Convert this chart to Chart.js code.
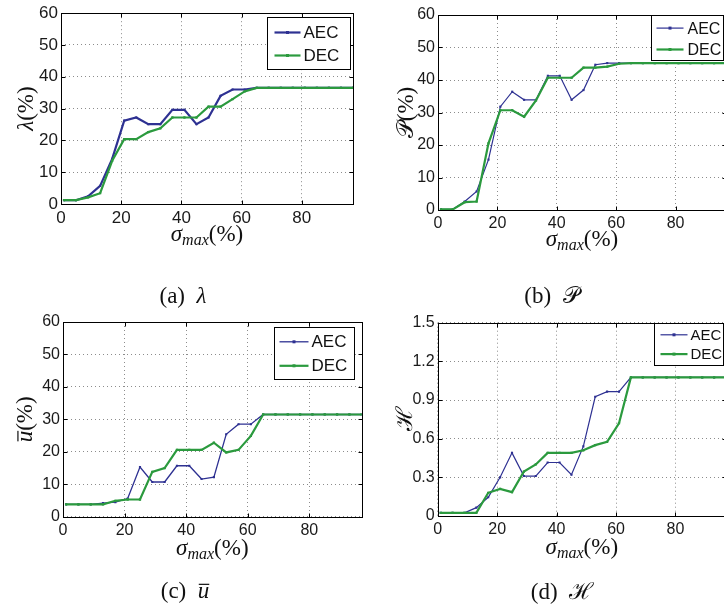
<!DOCTYPE html>
<html>
<head>
<meta charset="utf-8">
<script src="https://cdn.jsdelivr.net/npm/chart.js@4.4.1/dist/chart.umd.min.js"></script>
<style>
  html, body { margin: 0; padding: 0; background: #fff; width: 724px; height: 606px; overflow: hidden; }
  canvas { position: absolute; left: 0; top: 0; }
</style>
</head>
<body>
<canvas id="panelA" width="760" height="606"></canvas>
<canvas id="panelB" width="760" height="606"></canvas>
<canvas id="panelC" width="760" height="606"></canvas>
<canvas id="panelD" width="760" height="606"></canvas>
<script>
// sigma_max (%) sample points, shared by all four panels
const sigmaMax = [1, 5, 9, 13, 17, 21, 25, 29, 33, 37, 41, 45, 49, 53, 57, 61, 65, 69, 73, 77, 81, 85, 89, 93, 97];

// (a) lambda (%)
const lambdaAEC = [1.2, 1.2, 2.4, 5.7, 14.2, 26.2, 27.2, 25.1, 25.1, 29.6, 29.6, 25.1, 27.2, 34.0, 36.0, 36.0, 36.5, 36.5, 36.5, 36.5, 36.5, 36.5, 36.5, 36.5, 36.5];
const lambdaDEC = [1.2, 1.2, 2.1, 3.4, 13.6, 20.4, 20.4, 22.6, 23.8, 27.2, 27.2, 27.2, 30.6, 30.6, 33.0, 35.4, 36.5, 36.5, 36.5, 36.5, 36.5, 36.5, 36.5, 36.5, 36.5];

// (b) P (%)
const precAEC = [0.2, 0.2, 2.6, 5.7, 15.5, 31.8, 36.4, 33.9, 33.9, 41.3, 41.3, 33.9, 36.9, 44.7, 45.2, 45.2, 45.2, 45.2, 45.2, 45.2, 45.2, 45.2, 45.2, 45.2, 45.2];
const precDEC = [0.2, 0.2, 2.4, 2.6, 20.5, 30.7, 30.7, 28.7, 33.7, 40.7, 40.7, 40.7, 43.8, 43.8, 44.1, 45.0, 45.2, 45.2, 45.2, 45.2, 45.2, 45.2, 45.2, 45.2, 45.2];

// (c) u-bar (%)
const ubarAEC = [3.8, 3.8, 3.8, 4.2, 4.5, 5.6, 15.3, 10.7, 10.7, 15.7, 15.7, 11.6, 12.2, 25.4, 28.5, 28.5, 31.5, 31.5, 31.5, 31.5, 31.5, 31.5, 31.5, 31.5, 31.5];
const ubarDEC = [3.8, 3.8, 3.8, 3.8, 4.9, 5.3, 5.3, 13.8, 15.0, 20.6, 20.6, 20.6, 22.8, 19.8, 20.6, 24.9, 31.5, 31.5, 31.5, 31.5, 31.5, 31.5, 31.5, 31.5, 31.5];

// (d) H
const entAEC = [0.025, 0.025, 0.025, 0.065, 0.145, 0.30, 0.49, 0.31, 0.31, 0.415, 0.415, 0.32, 0.54, 0.925, 0.965, 0.965, 1.075, 1.075, 1.075, 1.075, 1.075, 1.075, 1.075, 1.075, 1.075];
const entDEC = [0.025, 0.025, 0.025, 0.025, 0.18, 0.21, 0.185, 0.345, 0.40, 0.49, 0.49, 0.49, 0.51, 0.55, 0.575, 0.72, 1.075, 1.075, 1.075, 1.075, 1.075, 1.075, 1.075, 1.075, 1.075];

const xTicks = [0, 20, 40, 60, 80];
const pctTicks = [0, 10, 20, 30, 40, 50, 60];
const entTicks = [0, 0.3, 0.6, 0.9, 1.2, 1.5];
const seriesNames = ['AEC', 'DEC'];

const BLUE = '#2e3192';
const GREEN = '#2b9a3e';
const SANS = '"Liberation Sans", Arial, sans-serif';
const SERIF = '"Liberation Serif", "DejaVu Serif", serif';

// symbol used in y title and caption
function symbolSegs(key, size) {
  if (key === 'lambda') return [{ t: 'λ', font: `italic ${size}px ${SERIF}` }];
  if (key === 'P') return [{ t: '𝒫', font: `${size}px "DejaVu Serif", ${SERIF}` }];
  if (key === 'u') return [{ t: 'u', font: `italic ${size}px ${SERIF}`, over: size * 0.62 }];
  return [{ t: 'ℋ', font: `${size}px "DejaVu Serif", ${SERIF}` }];
}

function segWidth(ctx, segs) {
  let w = 0;
  segs.forEach(s => { ctx.font = s.font; w += ctx.measureText(s.t).width; });
  return w;
}

function drawSegs(ctx, segs, x, y) {
  segs.forEach(s => {
    ctx.font = s.font;
    ctx.fillText(s.t, x, y + (s.dy || 0));
    const w = ctx.measureText(s.t).width;
    if (s.over) ctx.fillRect(x + 1, y - s.over, w - 1, 1.2);
    x += w;
  });
}

const decor = {
  id: 'decor',
  afterDraw(chart, args, o) {
    const { ctx, chartArea: a } = chart;
    const xs = chart.scales.x, ys = chart.scales.y;
    const L = Math.round(a.left) + 0.5, R = Math.round(a.right) + 0.5;
    const T = Math.round(a.top) + 0.5, B = Math.round(a.bottom) + 0.5;
    ctx.save();
    ctx.strokeStyle = '#000';
    ctx.lineWidth = 1;
    // inward tick marks (both sides)
    ctx.beginPath();
    xTicks.forEach(v => {
      const px = Math.round(xs.getPixelForValue(v)) + 0.5;
      ctx.moveTo(px, B); ctx.lineTo(px, B - 4);
      ctx.moveTo(px, T); ctx.lineTo(px, T + 4);
    });
    ys.ticks.forEach(t => {
      const py = Math.round(ys.getPixelForValue(t.value)) + 0.5;
      ctx.moveTo(L, py); ctx.lineTo(L + 4, py);
      ctx.moveTo(R, py); ctx.lineTo(R - 4, py);
    });
    ctx.stroke();
    // axes box
    ctx.strokeRect(L, T, R - L, B - T);

    // legend
    const lg = o.legend;
    const bx = Math.round(a.right - lg.inset - lg.w) + 0.5;
    const by = Math.round(a.top + lg.top) + 0.5;
    ctx.fillStyle = '#fff';
    ctx.fillRect(bx, by, lg.w, lg.h);
    ctx.strokeStyle = '#000';
    ctx.strokeRect(bx, by, lg.w, lg.h);
    chart.data.datasets.forEach((ds, i) => {
      const y = by + lg.rows[i];
      ctx.strokeStyle = ds.borderColor;
      ctx.lineWidth = ds.borderWidth;
      ctx.beginPath();
      ctx.moveTo(bx + lg.x0, y); ctx.lineTo(bx + lg.x1, y);
      ctx.stroke();
      ctx.fillStyle = ds.borderColor;
      ctx.fillRect(bx + (lg.x0 + lg.x1) / 2 - 1.5, y - 1.5, 3, 3);
      ctx.fillStyle = '#111';
      ctx.font = `${lg.font}px ${SANS}`;
      ctx.textBaseline = 'middle';
      ctx.textAlign = 'left';
      ctx.fillText(ds.label, bx + lg.text, y + 1);
    });

    ctx.fillStyle = '#111';
    ctx.textBaseline = 'alphabetic';
    ctx.textAlign = 'left';
    // x title: sigma_max(%)
    const xt = [
      { t: 'σ', font: `italic 23px ${SERIF}` },
      { t: 'max', font: `italic 16px ${SERIF}`, dy: 4 },
      { t: '(%)', font: `23px ${SERIF}` }
    ];
    const cx = (a.left + a.right) / 2;
    drawSegs(ctx, xt, cx - segWidth(ctx, xt) / 2, o.xTitleY);

    // y title, rotated
    const yt = symbolSegs(o.sym, 23).concat(o.pct ? [{ t: '(%)', font: `23px ${SERIF}` }] : []);
    ctx.save();
    ctx.translate(o.yTitleX, (a.top + a.bottom) / 2);
    ctx.rotate(-Math.PI / 2);
    drawSegs(ctx, yt, -segWidth(ctx, yt) / 2, 23 * 0.33);
    ctx.restore();

    // caption
    const cap = [{ t: o.letter + '  ', font: `23px ${SERIF}` }].concat(symbolSegs(o.sym, 23));
    drawSegs(ctx, cap, o.capX - segWidth(ctx, cap) / 2, o.capY);
    ctx.restore();
  }
};

function makePanel(id, box, yMax, yTickList, aec, dec, aecWidth, tickFont, deco) {
  const toPts = arr => sigmaMax.map((x, i) => ({ x, y: arr[i] }));
  return new Chart(document.getElementById(id), {
    type: 'line',
    data: {
      datasets: [
        { label: seriesNames[0], data: toPts(aec), borderColor: BLUE, backgroundColor: BLUE,
          borderWidth: aecWidth, pointStyle: 'rect', pointRadius: 1.5, pointBorderWidth: 0, order: 1 },
        { label: seriesNames[1], data: toPts(dec), borderColor: GREEN, backgroundColor: GREEN,
          borderWidth: 2.2, pointStyle: 'rect', pointRadius: 1.6, pointBorderWidth: 0, order: 0 }
      ]
    },
    options: {
      responsive: false,
      animation: false,
      events: [],
      layout: { padding: { left: box.left - 60, top: box.top, right: 760 - box.right, bottom: 606 - box.bottom - 30 } },
      plugins: { legend: { display: false }, tooltip: { enabled: false }, decor: deco },
      scales: {
        x: {
          type: 'linear', min: 0, max: 97,
          afterBuildTicks: s => { s.ticks = xTicks.map(v => ({ value: v })); },
          afterFit: s => { s.height = 30; },
          grid: { color: '#8c8c8c', lineWidth: 1, drawTicks: false },
          border: { display: false, dash: [1, 3] },
          ticks: { color: '#1a1a1a', padding: 4, maxRotation: 0, autoSkip: false, font: { family: SANS, size: tickFont } }
        },
        y: {
          type: 'linear', min: 0, max: yMax,
          afterBuildTicks: s => { s.ticks = yTickList.map(v => ({ value: v })); },
          afterFit: s => { s.width = 60; },
          grid: { color: '#8c8c8c', lineWidth: 1, drawTicks: false },
          border: { display: false, dash: [1, 3] },
          ticks: { color: '#1a1a1a', padding: 3, autoSkip: false, font: { family: SANS, size: tickFont } }
        }
      }
    },
    plugins: [decor]
  });
}

makePanel('panelA', { left: 61, top: 10, right: 353, bottom: 204 }, 60, pctTicks, lambdaAEC, lambdaDEC, 2.2, 17, {
  sym: 'lambda', pct: true, letter: '(a)', xTitleY: 241, yTitleX: 25, capX: 183, capY: 303,
  legend: { inset: 3, top: 4, w: 83, h: 52, rows: [15, 38], x0: 7, x1: 33, text: 36, font: 17 }
});
makePanel('panelB', { left: 438, top: 15, right: 726, bottom: 210 }, 60, pctTicks, precAEC, precDEC, 1.2, 16, {
  sym: 'P', pct: true, letter: '(b)', xTitleY: 246, yTitleX: 405, capX: 552, capY: 303,
  legend: { inset: 3, top: 0, w: 72, h: 45, rows: [12.6, 34], x0: 5, x1: 32, text: 36, font: 16 }
});
makePanel('panelC', { left: 63, top: 322, right: 361.7, bottom: 516.7 }, 60, pctTicks, ubarAEC, ubarDEC, 1.3, 16, {
  sym: 'u', pct: true, letter: '(c)', xTitleY: 555, yTitleX: 24, capX: 185, capY: 598,
  legend: { inset: 8, top: 4.7, w: 80, h: 52, rows: [14.3, 38.3], x0: 5, x1: 34, text: 37, font: 17 }
});
makePanel('panelD', { left: 437.7, top: 322.7, right: 726, bottom: 516 }, 1.5, entTicks, entAEC, entDEC, 1.2, 16, {
  sym: 'H', pct: false, letter: '(d)', xTitleY: 554, yTitleX: 404, capX: 562, capY: 599,
  legend: { inset: 3, top: 0, w: 69, h: 42, rows: [11.3, 30.6], x0: 6, x1: 33, text: 36, font: 15 }
});
</script>
</body>
</html>
